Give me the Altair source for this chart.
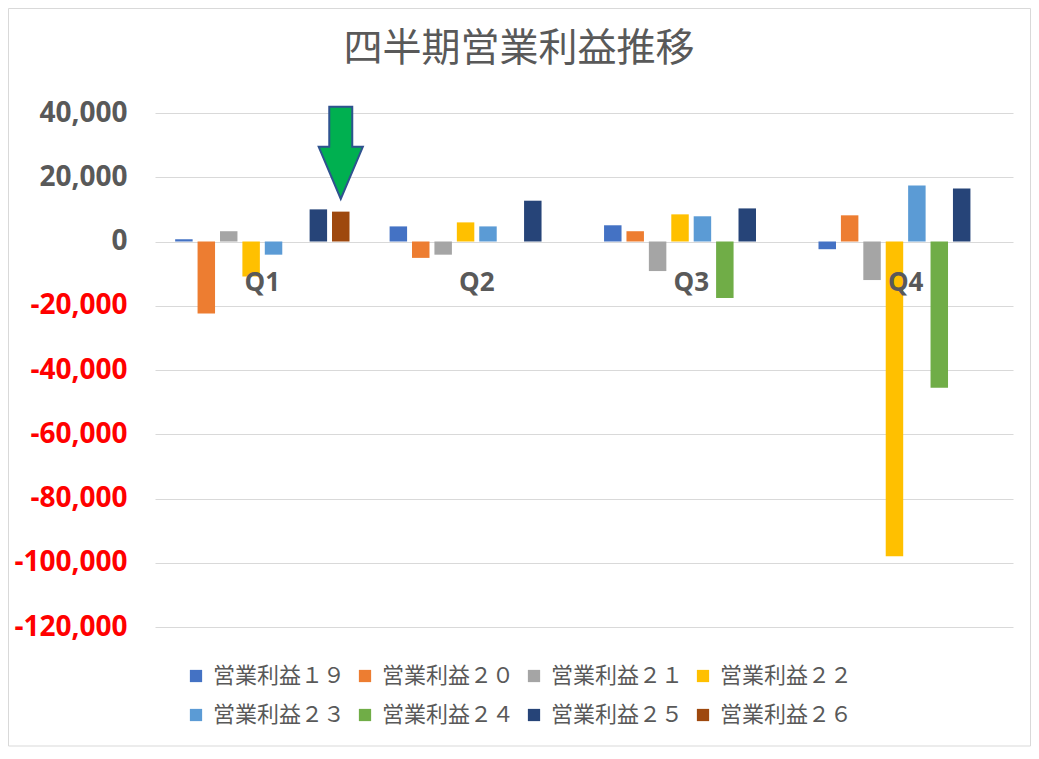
import altair as alt
import pandas as pd

quarters = ["Q1", "Q2", "Q3", "Q4"]
series = ["営業利益１９", "営業利益２０", "営業利益２１", "営業利益２２",
          "営業利益２３", "営業利益２４", "営業利益２５", "営業利益２６"]
colors = ["#4472C4", "#ED7D31", "#A5A5A5", "#FFC000",
          "#5B9BD5", "#70AD47", "#264478", "#9E480E"]

s19 = [700, 4700, 5050, -2400]
s20 = [-22400, -5100, 3200, 8150]
s21 = [3200, -4100, -9200, -12000]
s22 = [-10900, 5950, 8450, -98000]
s23 = [-4100, 4700, 7850, 17450]
s24 = [None, None, -17600, -45500]
s25 = [10000, 12700, 10300, 16500]
s26 = [9300, None, None, None]
all_values = [s19, s20, s21, s22, s23, s24, s25, s26]

y_ticks = [-120000, -100000, -80000, -60000, -40000, -20000, 0, 20000, 40000]

# arrow annotation (points at 営業利益２６ in Q1)
arrow_quarter = ["Q1"]
arrow_series = ["営業利益２６"]
arrow_value = [27600]

rows = []
for name, vals in zip(series, all_values):
    for q, v in zip(quarters, vals):
        if v is not None:
            rows.append({"quarter": q, "series": name, "value": v})
df = pd.DataFrame(rows)
qdf = pd.DataFrame({"quarter": quarters, "zero": [0] * len(quarters)})
adf = pd.DataFrame({"quarter": arrow_quarter, "series": arrow_series, "value": arrow_value})
frame_df = pd.DataFrame({"k": [0]})

gray = "#595959"
num_font = "Open Sans"
jp_font = "Noto Sans CJK JP"

x_scale = alt.Scale(domain=quarters, paddingInner=0.187, paddingOuter=0.094)
y_scale = alt.Scale(domain=[-120000, 40000], nice=False)
xo_scale = alt.Scale(domain=series, paddingInner=0.22, paddingOuter=0)

# light chart-area border
frame = alt.Chart(frame_df).mark_rect(fillOpacity=0, stroke="#D9D9D9", strokeWidth=1).encode(
    x=alt.value(-146.5), x2=alt.value(875.5), y=alt.value(-104.5), y2=alt.value(633)
)

bars = alt.Chart(df).mark_bar().encode(
    x=alt.X("quarter:N", scale=x_scale, axis=None),
    xOffset=alt.XOffset("series:N", scale=xo_scale),
    y=alt.Y("value:Q", scale=y_scale, title=None,
            axis=alt.Axis(values=y_ticks, domain=False, ticks=False,
                          labelExpr="(datum.value < 0 ? '-' : '') + format(abs(datum.value), ',')",
                          grid=True, gridColor="#D9D9D9", gridWidth=1,
                          labelFont=num_font, labelFontSize=28, labelFontWeight="bold",
                          labelPadding=28,
                          labelColor={"condition": {"test": "datum.value < 0", "value": "#FF0000"},
                                      "value": gray})),
    color=alt.Color("series:N", scale=alt.Scale(domain=series, range=colors),
                    legend=alt.Legend(title=None, orient="none", legendX=30, legendY=552,
                                      direction="horizontal", columns=4,
                                      symbolType="square", symbolSize=150,
                                      symbolStrokeWidth=0,
                                      labelFont=jp_font, labelFontSize=22, labelColor=gray,
                                      labelOffset=6, columnPadding=8, rowPadding=17,
                                      labelLimit=300)),
)

labels = alt.Chart(qdf).mark_text(dy=41, fontSize=26, fontWeight="bold", font=num_font,
                                  color=gray).encode(
    x=alt.X("quarter:N", scale=x_scale, axis=None),
    y=alt.Y("zero:Q", scale=y_scale),
    text="quarter:N",
)

arrow_path = ("M -0.25 -1 L 0.25 -1 L 0.25 -0.13 L 0.48 -0.13 L 0 1 "
              "L -0.48 -0.13 L -0.25 -0.13 Z")
arrow = alt.Chart(adf).mark_point(shape=arrow_path, size=8464, filled=True,
                                  fill="#00B050", stroke="#2F528F", strokeWidth=2,
                                  opacity=1).encode(
    x=alt.X("quarter:N", scale=x_scale, axis=None),
    xOffset=alt.XOffset("series:N", scale=xo_scale),
    y=alt.Y("value:Q", scale=y_scale),
)

chart = alt.layer(frame, bars, labels, arrow).properties(
    width=858, height=514,
    autosize="none",
    padding={"left": 147, "top": 105, "right": 18, "bottom": 124},
    background="white",
    title=alt.TitleParams("四半期営業利益推移", font=jp_font, fontSize=39,
                          fontWeight="normal", color=gray, anchor="middle",
                          dx=-65, offset=-61),
).configure_view(stroke=None)

chart.save("out.html", embed_options={"renderer": "svg", "actions": False})
